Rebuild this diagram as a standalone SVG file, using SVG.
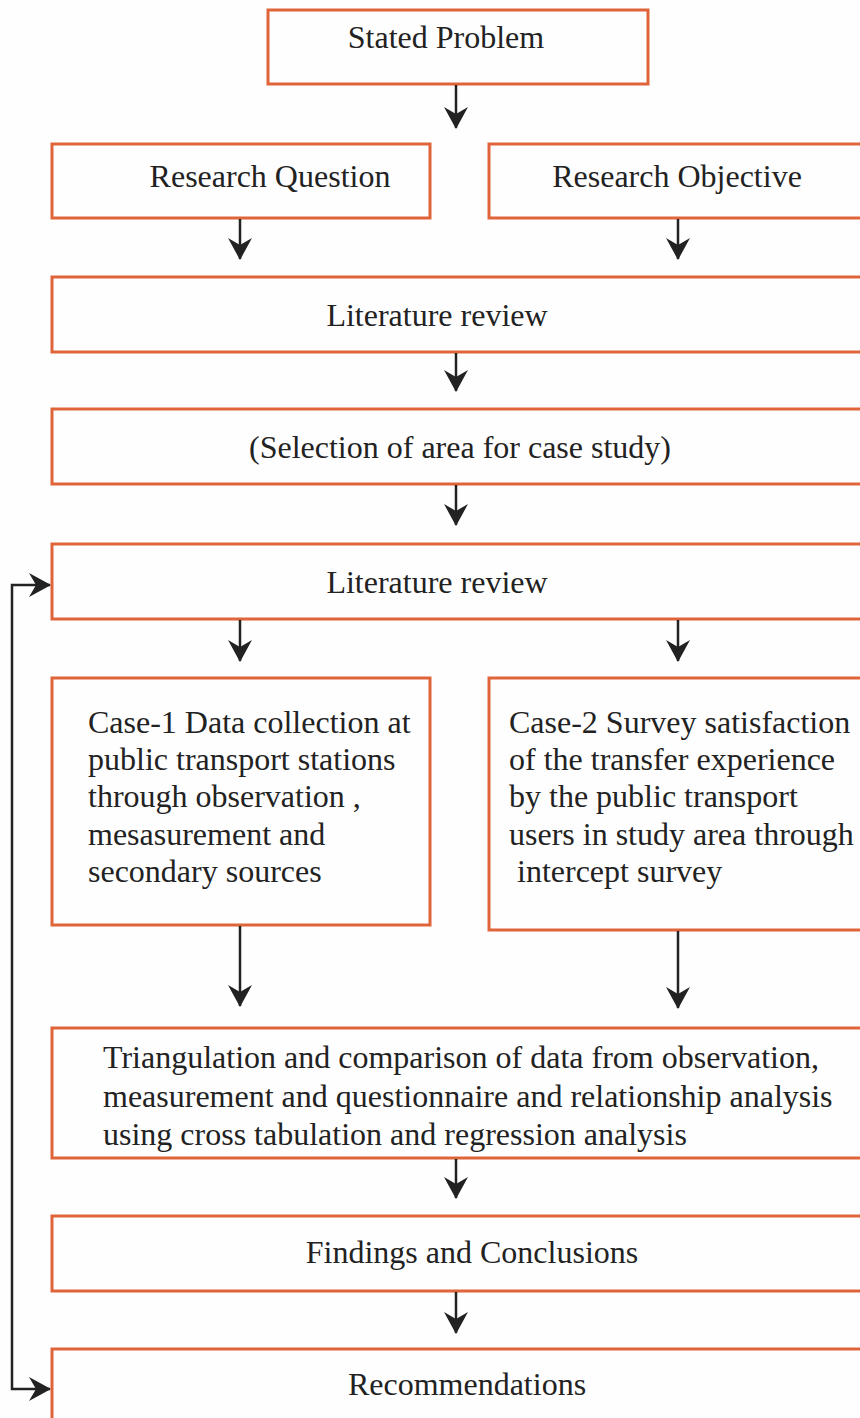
<svg xmlns="http://www.w3.org/2000/svg" width="860" height="1418" viewBox="0 0 860 1418">
<defs>
<style>
.box{fill:#fefefe;stroke:#e0643a;stroke-width:3}
.t{font-family:"Liberation Serif","Times New Roman",serif;font-size:32px;fill:#222}
.c{text-anchor:middle}
.ln{stroke:#222;stroke-width:2.5;fill:none;marker-end:url(#ah)}
</style>
<marker id="ah" viewBox="0 0 22 24" refX="21" refY="12" markerWidth="22" markerHeight="24" markerUnits="userSpaceOnUse" orient="auto">
<path d="M0,0 L22,12 L0,24 L7,12 z" fill="#222"/>
</marker>
</defs>
<rect width="860" height="1418" fill="#fefefe"/>
<g id="n1"><rect class="box" x="268" y="10" width="380" height="74"/><text class="t c" x="446" y="48">Stated Problem</text></g>
<g id="n2"><rect class="box" x="52" y="144" width="378" height="74"/><text class="t c" x="270" y="187">Research Question</text></g>
<g id="n3"><rect class="box" x="489" y="144" width="380" height="74"/><text class="t c" x="677" y="187">Research Objective</text></g>
<g id="n4"><rect class="box" x="52" y="277" width="817" height="75"/><text class="t c" x="437" y="326">Literature review</text></g>
<g id="n5"><rect class="box" x="52" y="409" width="817" height="75"/><text class="t c" x="460" y="458">(Selection of area for case study)</text></g>
<g id="n6"><rect class="box" x="52" y="544" width="817" height="75"/><text class="t c" x="437" y="593">Literature review</text></g>
<g id="n7"><rect class="box" x="52" y="678" width="378" height="247"/>
<text class="t" x="88" y="733">Case-1 Data collection at</text>
<text class="t" x="88" y="770">public transport stations</text>
<text class="t" x="88" y="807">through observation ,</text>
<text class="t" x="88" y="845">mesasurement and</text>
<text class="t" x="88" y="882">secondary sources</text></g>
<g id="n8"><rect class="box" x="489" y="678" width="380" height="252"/>
<text class="t" x="509" y="733">Case-2 Survey satisfaction</text>
<text class="t" x="509" y="770">of the transfer experience</text>
<text class="t" x="509" y="807">by the public transport</text>
<text class="t" x="509" y="845">users in study area through</text>
<text class="t" x="509" y="882" xml:space="preserve"> intercept survey</text></g>
<g id="n9"><rect class="box" x="52" y="1028" width="817" height="130"/>
<text class="t" x="103" y="1068">Triangulation and comparison of data from observation,</text>
<text class="t" x="103" y="1107">measurement and questionnaire and relationship analysis</text>
<text class="t" x="103" y="1145">using cross tabulation and regression analysis</text></g>
<g id="n10"><rect class="box" x="52" y="1216" width="817" height="75"/><text class="t c" x="472" y="1263">Findings and Conclusions</text></g>
<g id="n11"><rect class="box" x="52" y="1349" width="817" height="80"/><text class="t c" x="467" y="1395">Recommendations</text></g>
<g id="connectors">
<line class="ln" x1="456" y1="85" x2="456" y2="128"/>
<line class="ln" x1="240" y1="219" x2="240" y2="259"/>
<line class="ln" x1="678" y1="219" x2="678" y2="259"/>
<line class="ln" x1="456" y1="353" x2="456" y2="391"/>
<line class="ln" x1="456" y1="485" x2="456" y2="525"/>
<line class="ln" x1="240" y1="620" x2="240" y2="661"/>
<line class="ln" x1="678" y1="620" x2="678" y2="661"/>
<line class="ln" x1="240" y1="926" x2="240" y2="1006"/>
<line class="ln" x1="678" y1="931" x2="678" y2="1008"/>
<line class="ln" x1="456" y1="1159" x2="456" y2="1198"/>
<line class="ln" x1="456" y1="1292" x2="456" y2="1333"/>
<path class="ln" d="M12,1000 V585 H50"/>
<path class="ln" d="M12,1000 V1389 H50"/>
</g>
</svg>
